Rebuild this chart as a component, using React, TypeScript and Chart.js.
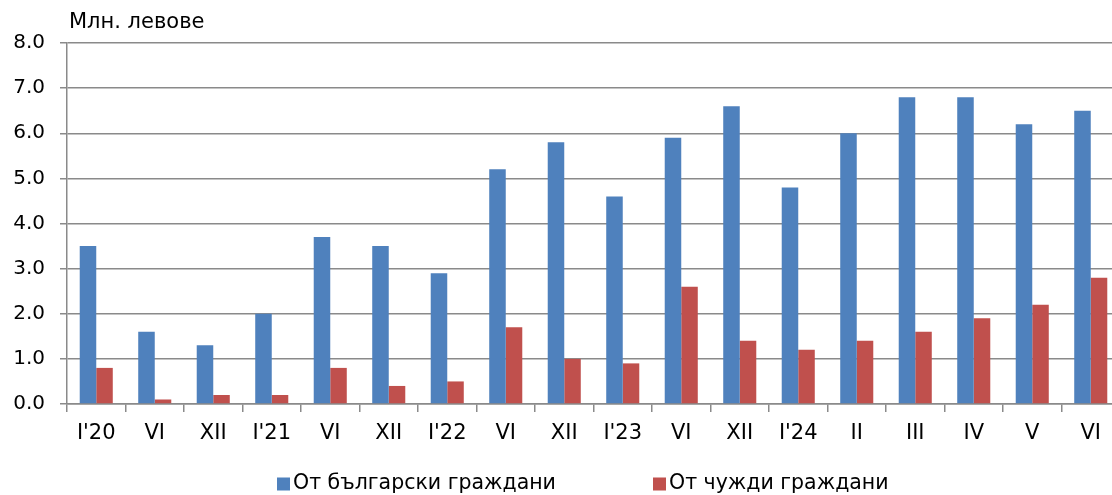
import React, { useEffect, useRef } from "react";
import { Chart, registerables } from "chart.js";

Chart.register(...registerables);

const categories = ["I'20", "VI", "XII", "I'21", "VI", "XII", "I'22", "VI", "XII", "I'23", "VI", "XII", "I'24", "II", "III", "IV", "V", "VI"];
const bulgarian = [3.5, 1.6, 1.3, 2.0, 3.7, 3.5, 2.9, 5.2, 5.8, 4.6, 5.9, 6.6, 4.8, 6.0, 6.8, 6.8, 6.2, 6.5];
const foreign = [0.8, 0.1, 0.2, 0.2, 0.8, 0.4, 0.5, 1.7, 1.0, 0.9, 2.6, 1.4, 1.2, 1.4, 1.6, 1.9, 2.2, 2.8];
const seriesNames = ["От български граждани", "От чужди граждани"];
const axisTitle = "Млн. левове";

const BLUE = "#4F81BD";
const RED = "#C0504D";
const GRID = "#8a8a8a";
const FONT = "'DejaVu Sans', Verdana, sans-serif";

const overlay = {
  id: "overlay",
  afterDraw(chart: any) {
    const ctx = chart.ctx;
    const area = chart.chartArea;
    ctx.save();
    ctx.fillStyle = "#000";
    ctx.font = `21px ${FONT}`;
    ctx.textBaseline = "middle";
    ctx.textAlign = "left";
    ctx.fillText(axisTitle, area.left + 2, 22.5);
    // legend
    ctx.font = `20.5px ${FONT}`;
    const items = [
      { text: seriesNames[0], color: BLUE, x: 277 },
      { text: seriesNames[1], color: RED, x: 653 },
    ];
    const y = 484;
    items.forEach((it) => {
      ctx.fillStyle = it.color;
      ctx.fillRect(it.x, y - 6.5, 13, 13);
      ctx.fillStyle = "#000";
      ctx.fillText(it.text, it.x + 16, y);
    });
    ctx.restore();
  },
};

export default function App() {
  const ref = useRef<HTMLCanvasElement>(null);
  useEffect(() => {
    if (!ref.current) return;
    const chart = new Chart(ref.current, {
      type: "bar",
      data: {
        labels: categories,
        datasets: [
          { label: seriesNames[0], data: bulgarian, backgroundColor: BLUE, borderWidth: 0 },
          { label: seriesNames[1], data: foreign, backgroundColor: RED, borderWidth: 0 },
        ],
      },
      options: {
        animation: false,
        responsive: false,
        maintainAspectRatio: false,
        devicePixelRatio: 1,
        datasets: { bar: { categoryPercentage: 0.565, barPercentage: 1.0 } },
        layout: { padding: { left: 0, right: 10, top: 43, bottom: 0 } },
        plugins: { legend: { display: false }, tooltip: { enabled: false }, title: { display: false } },
        scales: {
          x: {
            offset: true,
            grid: { display: true, offset: true, drawOnChartArea: false, drawTicks: true, tickLength: 8, color: GRID, lineWidth: 1.5 },
            border: { display: true, color: GRID, width: 1.5 },
            ticks: { color: "#000", font: { family: FONT, size: 21 }, padding: 9, maxRotation: 0, autoSkip: false },
            afterFit: (s: any) => { s.height = 91; },
          },
          y: {
            min: 0,
            max: 8,
            grid: { color: GRID, lineWidth: 1.5, tickLength: 7, drawTicks: true },
            border: { display: true, color: GRID, width: 1.5 },
            ticks: {
              stepSize: 1,
              color: "#000",
              font: { family: FONT, size: 20 },
              padding: 15,
              callback: (v: any) => Number(v).toFixed(1),
            },
            afterFit: (s: any) => { s.width = 67; },
          },
        },
      },
      plugins: [overlay],
    });
    return () => chart.destroy();
  }, []);
  return (
    <div style={{ position: "fixed", left: 0, top: 0, width: 1112, height: 495, overflow: "hidden", background: "#fff" }}>
      <canvas ref={ref} width={1130} height={495} style={{ width: 1130, height: 495, display: "block" }} />
    </div>
  );
}
